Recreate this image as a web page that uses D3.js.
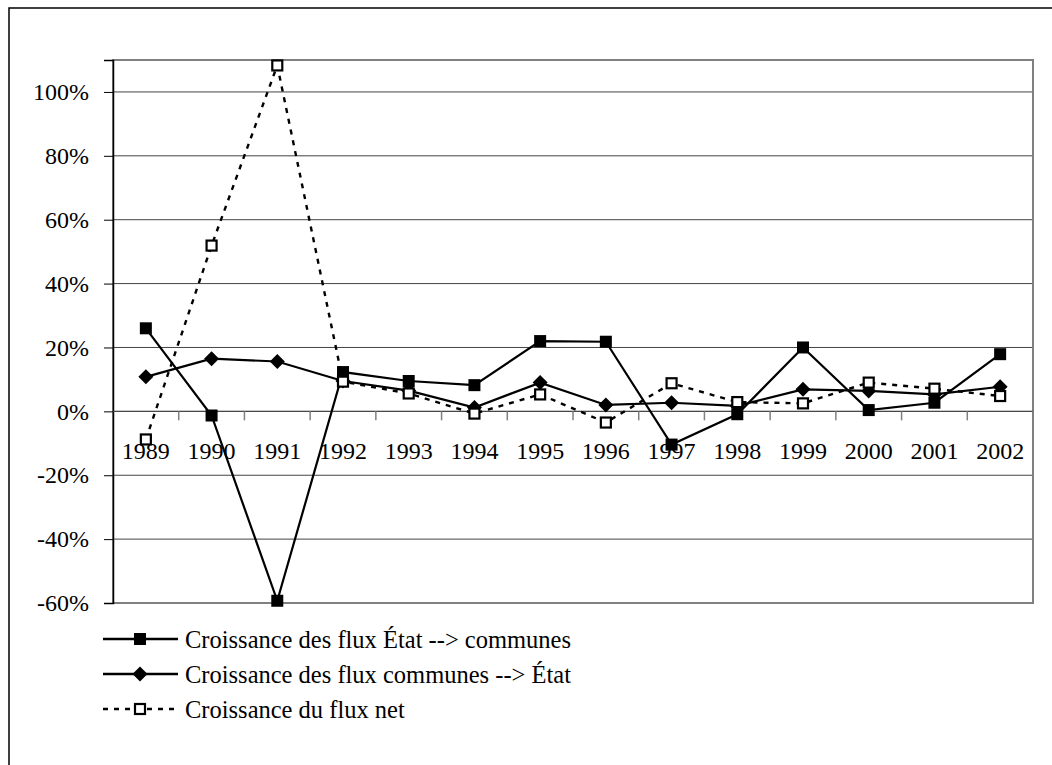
<!DOCTYPE html>
<html><head><meta charset="utf-8">
<script src="https://cdn.jsdelivr.net/npm/d3@7"></script>
<style>
html,body{margin:0;padding:0;background:#fff;}
svg{display:block;}
svg text{font-family:'Liberation Serif','Times New Roman',Times,'DejaVu Serif',serif;fill:#000;}
</style></head>
<body>
<svg id="chart" width="1052" height="765"></svg>
<script>
const years = ["1989","1990","1991","1992","1993","1994","1995","1996","1997","1998","1999","2000","2001","2002"];
const etatVersCommunes = [0.260,-0.013,-0.593,0.123,0.095,0.082,0.220,0.218,-0.104,-0.009,0.200,0.004,0.027,0.179];
const communesVersEtat = [0.108,0.165,0.156,0.095,0.065,0.012,0.090,0.020,0.027,0.017,0.069,0.064,0.053,0.077];
const fluxNet = [-0.088,0.519,1.083,0.093,0.056,-0.007,0.053,-0.035,0.088,0.029,0.025,0.090,0.071,0.048];
const yTicks = [-0.6,-0.4,-0.2,0,0.2,0.4,0.6,0.8,1.0];
const seriesNames = ["Croissance des flux État --> communes","Croissance des flux communes --> État","Croissance du flux net"];

const FONT = "'Liberation Serif','Times New Roman',Times,'DejaVu Serif',serif";
const svg = d3.select("#chart");
const L = 113, R = 1033, T = 60, B = 603;

svg.append("rect").attr("x",9).attr("y",8).attr("width",1100).attr("height",800)
  .attr("fill","none").attr("stroke","#000").attr("stroke-width",1.5);

const x = d3.scaleBand().domain(years).range([L,R]).padding(0);
const y = d3.scaleLinear().domain([-0.6,1.1]).range([B,T]);

svg.append("g").selectAll("line").data(yTicks).join("line")
  .attr("x1",L).attr("x2",R).attr("y1",d=>y(d)).attr("y2",d=>y(d))
  .attr("stroke","#444").attr("stroke-width",1);

svg.append("rect").attr("x",L).attr("y",T).attr("width",R-L).attr("height",B-T)
  .attr("fill","none").attr("stroke","#808080").attr("stroke-width",2);

const yAxis = d3.axisLeft(y).tickValues(yTicks).tickSize(9).tickPadding(15)
  .tickFormat(d=>Math.round(d*100)+"%");
const gy = svg.append("g").attr("transform",`translate(${L},0)`).call(yAxis)
  .attr("font-family",FONT).attr("font-size",24);
gy.select(".domain").attr("stroke","#000").attr("stroke-width",1.5);
gy.selectAll(".tick line").attr("stroke","#000");
gy.selectAll("text").attr("fill","#000");

const gx = svg.append("g").attr("transform",`translate(0,${y(0)})`).attr("font-family",FONT);
gx.append("line").attr("x1",L).attr("x2",R).attr("y1",0).attr("y2",0).attr("stroke","#444").attr("stroke-width",1);
const bounds = d3.range(1, years.length+1).map(i=>L + i*x.bandwidth());
gx.selectAll("line.tk").data(bounds).join("line").attr("class","tk")
  .attr("x1",d=>d).attr("x2",d=>d).attr("y1",0).attr("y2",9)
  .attr("stroke","#808080").attr("stroke-width",1.5);
gx.selectAll("text").data(years).join("text")
  .attr("x",d=>x(d)+x.bandwidth()/2).attr("y",48)
  .attr("text-anchor","middle").attr("font-size",24).text(d=>d);

const cx = d=>x(d)+x.bandwidth()/2;
const line = d3.line().x((d,i)=>cx(years[i])).y(d=>y(d));

svg.append("path").datum(etatVersCommunes).attr("d",line)
  .attr("fill","none").attr("stroke","#000").attr("stroke-width",2.2);
svg.append("g").selectAll("rect").data(etatVersCommunes).join("rect")
  .attr("x",(d,i)=>cx(years[i])-6).attr("y",d=>y(d)-6).attr("width",12).attr("height",12)
  .attr("fill","#000");

svg.append("path").datum(communesVersEtat).attr("d",line)
  .attr("fill","none").attr("stroke","#000").attr("stroke-width",2.2);
const diamond = (px,py,s)=>`M${px},${py-s}L${px+s},${py}L${px},${py+s}L${px-s},${py}Z`;
svg.append("g").selectAll("path").data(communesVersEtat).join("path")
  .attr("d",(d,i)=>diamond(cx(years[i]),y(d),7.5)).attr("fill","#000");

svg.append("path").datum(fluxNet).attr("d",line)
  .attr("fill","none").attr("stroke","#000").attr("stroke-width",2.4).attr("stroke-dasharray","5,6");
svg.append("g").selectAll("rect").data(fluxNet).join("rect")
  .attr("x",(d,i)=>cx(years[i])-5).attr("y",d=>y(d)-5).attr("width",10).attr("height",10)
  .attr("fill","#fff").attr("stroke","#000").attr("stroke-width",2.2);

const legY = [639, 674, 709];
const lg = svg.append("g").attr("font-family",FONT);
seriesNames.forEach((name,i)=>{
  const yy = legY[i];
  const ln = lg.append("line").attr("x1",103).attr("x2",178).attr("y1",yy).attr("y2",yy)
    .attr("stroke","#000").attr("stroke-width",2.4);
  if(i===2) ln.attr("stroke-dasharray","5,6");
  if(i===0) lg.append("rect").attr("x",134).attr("y",yy-6).attr("width",12).attr("height",12).attr("fill","#000");
  if(i===1) lg.append("path").attr("d",diamond(140,yy,7.5)).attr("fill","#000");
  if(i===2) lg.append("rect").attr("x",135).attr("y",yy-5).attr("width",10).attr("height",10).attr("fill","#fff").attr("stroke","#000").attr("stroke-width",2.2);
  lg.append("text").attr("x",185).attr("y",yy+9).attr("font-size",24.5).text(name);
});
</script>
</body></html>
